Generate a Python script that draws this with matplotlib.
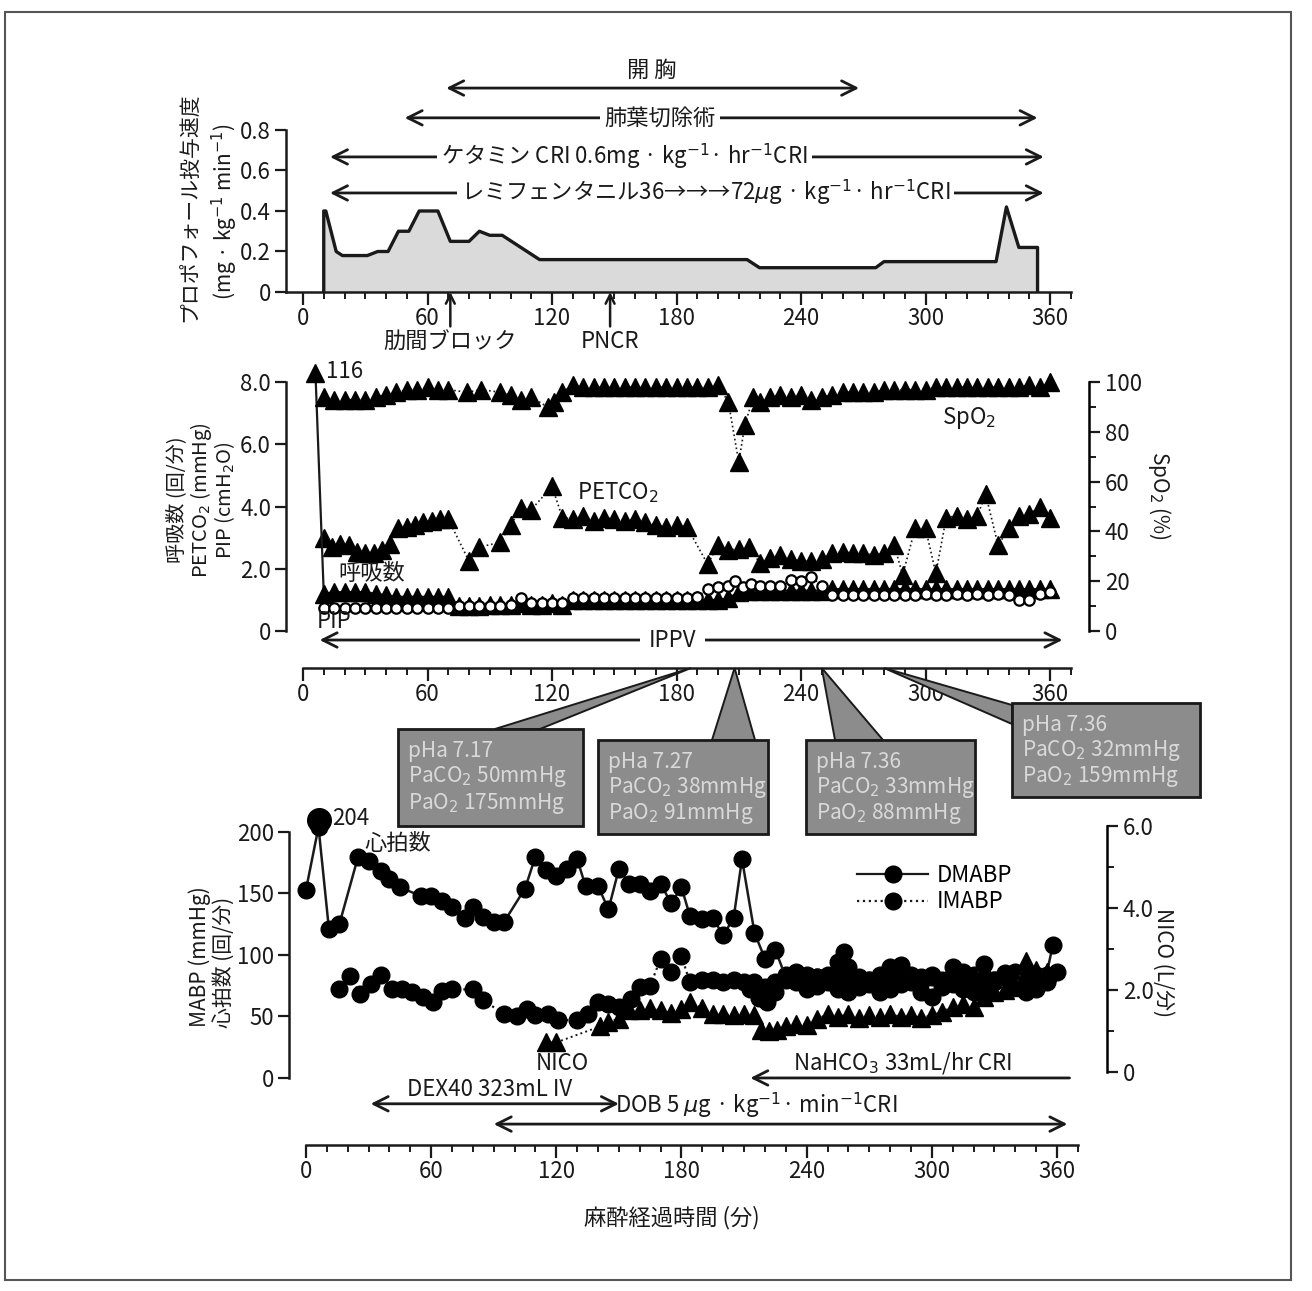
import matplotlib.pyplot as plt
from matplotlib.lines import Line2D
from matplotlib.patches import Polygon, Rectangle

plt.rcParams['font.family'] = ['Noto Sans CJK JP', 'DejaVu Sans']
plt.rcParams['mathtext.fontset'] = 'dejavusans'

# ---- top panel: propofol rate (mg/kg/min)
prop_t = [10, 10, 11, 16, 19, 31, 36, 41, 46, 51, 56, 65, 71, 80, 85, 90, 96, 114, 214, 220, 276, 280, 334, 339, 345, 354, 354]
prop_v = [0, 0.40, 0.40, 0.20, 0.18, 0.18, 0.20, 0.20, 0.30, 0.30, 0.40, 0.40, 0.25, 0.25, 0.30, 0.28, 0.28, 0.16, 0.16, 0.12, 0.12, 0.15, 0.15, 0.42, 0.22, 0.22, 0]

# ---- middle panel
spo2_t = [10, 15, 20, 25, 30, 35, 40, 45, 50, 55, 60, 65, 70, 79, 86, 95, 100, 105, 110, 118, 121, 125,
          130, 135, 140, 145, 150, 155, 160, 165, 170, 175, 180, 185, 190, 195, 200, 205, 210, 213, 217,
          220, 225, 230, 235, 240, 245, 250, 255, 260, 265, 270, 275, 280, 285, 290, 295, 300, 305, 310,
          315, 320, 325, 330, 335, 340, 345, 350, 355, 360]
spo2_v = [94, 93, 93, 93, 93, 94, 95, 96, 97, 97, 98, 97, 97, 96, 97, 96, 95, 93, 94, 90, 92, 96,
          99, 98, 98, 98, 98, 98, 98, 98, 98, 98, 98, 98, 98, 98, 99, 92, 68, 83, 94,
          92, 94, 95, 94, 95, 93, 94, 95, 96, 96, 96, 96, 97, 97, 97, 97, 97, 98, 98,
          98, 98, 98, 98, 98, 98, 98, 99, 98, 100]

petco2_t = [10, 14, 18, 22, 26, 30, 34, 38, 42, 46, 50, 54, 58, 62, 66, 70, 80, 85, 95, 100, 105, 110,
            120, 125, 130, 135, 140, 145, 150, 155, 160, 165, 170, 175, 180, 185, 195, 200, 205, 210,
            215, 220, 225, 230, 235, 240, 245, 250, 255, 260, 265, 270, 275, 280, 285, 289, 295, 300,
            305, 310, 315, 320, 325, 329, 335, 340, 345, 350, 355, 360]
petco2_v = [3.0, 2.7, 2.8, 2.75, 2.55, 2.5, 2.5, 2.6, 2.8, 3.3, 3.35, 3.4, 3.5, 3.55, 3.6, 3.6, 2.25, 2.7,
            2.85, 3.4, 3.95, 3.9, 4.65, 3.65, 3.6, 3.7, 3.55, 3.65, 3.6, 3.55, 3.6, 3.5, 3.4, 3.35, 3.4,
            3.35, 2.15, 2.75, 2.6, 2.65, 2.7, 2.2, 2.35, 2.45, 2.3, 2.25, 2.25, 2.3, 2.5, 2.55, 2.5, 2.5,
            2.45, 2.5, 2.75, 1.8, 3.3, 3.3, 1.85, 3.65, 3.7, 3.6, 3.7, 4.4, 2.75, 3.3, 3.7, 3.75, 4.0, 3.65]

resp_t = [6, 10, 15, 20, 25, 30, 35, 40, 45, 50, 55, 60, 65, 70, 75, 80, 85, 90, 95, 100, 105, 110, 115,
          120, 125, 130, 135, 140, 145, 150, 155, 160, 165, 170, 175, 180, 185, 190, 195, 200, 205, 210,
          215, 220, 225, 230, 235, 240, 245, 250, 255, 260, 265, 270, 275, 280, 285, 290, 295, 300, 305,
          310, 315, 320, 325, 330, 335, 340, 345, 350, 355, 360]
resp_v = [116, 1.2, 1.25, 1.25, 1.25, 1.25, 1.2, 1.15, 1.1, 1.1, 1.1, 1.1, 1.1, 1.1, 0.8, 0.8, 0.8, 0.85,
          0.85, 0.85, 0.9, 0.85, 0.85, 0.9, 0.85, 1.0, 1.0, 1.0, 1.0, 1.0, 1.0, 1.0, 1.0, 1.0, 1.0, 1.0,
          1.0, 1.0, 1.0, 1.0, 1.05, 1.25, 1.3, 1.3, 1.3, 1.3, 1.3, 1.3, 1.3, 1.3, 1.35, 1.35, 1.35, 1.35,
          1.35, 1.35, 1.35, 1.35, 1.35, 1.35, 1.35, 1.35, 1.35, 1.35, 1.35, 1.35, 1.35, 1.35, 1.35, 1.35,
          1.35, 1.35]

pip_t = [10, 15, 20, 25, 30, 35, 40, 45, 50, 55, 60, 65, 70, 75, 80, 85, 90, 95, 100, 105, 110, 115,
         120, 125, 130, 135, 140, 145, 150, 155, 160, 165, 170, 175, 180, 185, 190, 195, 200, 205, 208,
         212, 216, 220, 225, 230, 235, 240, 245, 250, 255, 260, 265, 270, 275, 280, 285, 290, 295, 300,
         305, 310, 315, 320, 325, 330, 335, 340, 345, 350, 355, 360]
pip_v = [0.75, 0.75, 0.75, 0.75, 0.75, 0.75, 0.75, 0.75, 0.75, 0.75, 0.75, 0.75, 0.75, 0.8, 0.8, 0.8,
         0.8, 0.8, 0.85, 1.05, 0.9, 0.9, 0.9, 0.9, 1.05, 1.05, 1.05, 1.05, 1.05, 1.05, 1.05, 1.05, 1.05,
         1.05, 1.05, 1.05, 1.1, 1.35, 1.4, 1.45, 1.6, 1.4, 1.5, 1.45, 1.45, 1.45, 1.65, 1.6, 1.75, 1.45,
         1.15, 1.15, 1.15, 1.15, 1.15, 1.15, 1.15, 1.15, 1.15, 1.2, 1.15, 1.15, 1.2, 1.15, 1.2, 1.15,
         1.2, 1.15, 1.0, 1.0, 1.2, 1.25]

# ---- blood gas results
gas_t = [187, 208, 250, 280]
gas_pha = ['7.17', '7.27', '7.36', '7.36']
gas_paco2 = [50, 38, 33, 32]
gas_pao2 = [175, 91, 88, 159]

# ---- bottom panel
hr_t = [0, 6, 11, 16, 25, 30, 36, 40, 45, 55, 60, 65, 70, 76, 80, 85, 90, 95, 105, 110, 115, 120, 125,
        130, 134, 140, 145, 150, 155, 160, 165, 170, 175, 180, 184, 190, 195, 200, 205, 209, 215, 220,
        225, 230, 235, 240, 245, 250, 255, 260, 265, 270, 275, 280, 285, 290, 295, 300, 305, 310, 315,
        320, 325, 330, 335, 340, 345, 350, 355, 358]
hr_v = [153, 204, 121, 125, 180, 176, 168, 162, 155, 148, 148, 144, 139, 130, 139, 131, 127, 127, 154,
        180, 169, 164, 170, 178, 156, 156, 137, 170, 158, 158, 152, 158, 142, 155, 132, 129, 130, 116,
        130, 178, 118, 97, 104, 82, 84, 80, 82, 80, 86, 80, 78, 80, 82, 90, 92, 80, 78, 82, 80, 90, 82,
        80, 93, 80, 85, 82, 84, 80, 84, 108]

imabp_t = [16, 21, 26, 31, 36, 41, 46, 51, 56, 61, 65, 70, 80, 85, 95, 101, 106, 110, 116, 121, 130,
           135, 140, 145, 150, 156, 160, 165, 170, 175, 180, 184, 190, 195, 200, 205, 210, 215, 220,
           225, 230, 235, 240, 245, 250, 255, 258, 260, 265, 270, 275, 280, 285, 290, 295, 300, 305,
           310, 315, 320, 325, 330, 335, 340, 345, 350, 355]
imabp_v = [72, 83, 68, 76, 84, 72, 72, 70, 66, 62, 71, 72, 72, 63, 52, 50, 56, 51, 52, 47, 47, 52, 62,
           60, 58, 64, 74, 75, 97, 86, 99, 78, 80, 80, 78, 80, 78, 78, 74, 78, 84, 86, 84, 82, 84, 94,
           102, 90, 82, 80, 84, 78, 80, 84, 82, 84, 78, 84, 86, 84, 82, 78, 84, 86, 80, 84, 78]

dmabp_t = [213, 217, 221, 225, 230, 235, 240, 245, 250, 255, 260, 265, 270, 275, 280, 285, 290, 295,
           300, 305, 310, 315, 320, 325, 330, 335, 340, 345, 350, 355, 360]
dmabp_v = [72, 65, 62, 70, 80, 78, 72, 75, 78, 72, 70, 74, 76, 70, 72, 76, 78, 70, 66, 74, 76, 72, 70,
           74, 80, 82, 76, 70, 72, 80, 86]

nico_t = [115, 120, 141, 145, 150, 155, 160, 165, 170, 175, 180, 184, 190, 195, 200, 205, 210, 215, 218,
          222, 226, 230, 235, 240, 245, 250, 255, 260, 265, 270, 275, 280, 285, 290, 295, 300, 305, 310,
          315, 320, 325, 330, 335, 340, 345, 350, 355]
nico_v = [0.72, 0.72, 1.11, 1.23, 1.29, 1.50, 1.50, 1.56, 1.50, 1.44, 1.53, 1.71, 1.56, 1.41, 1.41,
          1.38, 1.41, 1.38, 1.02, 0.99, 1.02, 1.11, 1.17, 1.14, 1.29, 1.41, 1.35, 1.41, 1.32, 1.38, 1.35,
          1.41, 1.35, 1.38, 1.32, 1.38, 1.47, 1.59, 1.65, 1.59, 1.83, 1.95, 2.01, 2.07, 2.70, 2.49, 2.43]

W, H = 1312, 1291
fig = plt.figure(figsize=(W / 100, H / 100), dpi=100)
K = '#1a1a1a'
FS = 15


def box_px(x0, y_bottom, x1, y_top):
    return [x0 / W, 1 - y_bottom / H, (x1 - x0) / W, (y_bottom - y_top) / H]


def style_x(ax, lo):
    ax.set_xticks(range(0, 361, 60))
    ax.set_xticks(range(0, 371, 10), minor=True)
    ax.spines['bottom'].set_bounds(lo, 370)
    ax.tick_params(axis='x', which='major', length=9, width=1.6, pad=2, labelsize=FS + 1, color=K, labelcolor=K)
    ax.tick_params(axis='x', which='minor', length=5, width=1.4, color=K)


def base_style(ax):
    ax.set_facecolor('none')
    for s in ['top', 'right']:
        ax.spines[s].set_visible(False)
    for s in ['left', 'bottom']:
        ax.spines[s].set_linewidth(1.8)
        ax.spines[s].set_color(K)
    ax.tick_params(axis='y', length=8, width=1.6, pad=3, labelsize=FS + 1, color=K, labelcolor=K)


def darrow(ax, x0, x1, y, style='<->'):
    ax.annotate('', xy=(x1, y), xytext=(x0, y), annotation_clip=False,
                arrowprops=dict(arrowstyle=style, lw=2, color=K, mutation_scale=26,
                                shrinkA=0, shrinkB=0))


def label(ax, x, y, s, **kw):
    kw.setdefault('ha', 'center')
    kw.setdefault('va', 'center')
    kw.setdefault('fontsize', FS + 1)
    ax.text(x, y, s, color=K, **kw)


def side_label(x, y, s, rot=90, fs=FS, **kw):
    fig.text(x / W, 1 - y / H, s, rotation=rot, ha='center', va='center', fontsize=fs, color=K, **kw)


WB = dict(facecolor='white', edgecolor='none', pad=3)

# ================= top panel
ax1 = fig.add_axes(box_px(286.4, 292, 1074.9, 59.1))
base_style(ax1)
ax1.set_xlim(-8, 372)
ax1.set_ylim(0, 1.15)
ax1.fill_between(prop_t, prop_v, color='#dadada', lw=0)
ax1.plot(prop_t, prop_v, color=K, lw=2.4)
ax1.set_yticks([0, 0.2, 0.4, 0.6, 0.8])
ax1.set_yticklabels(['0', '0.2', '0.4', '0.6', '0.8'])
ax1.spines['left'].set_bounds(0, 0.8)
style_x(ax1, -8)

darrow(ax1, 69, 268, 1.007)
label(ax1, 168, 1.096, '開 胸')
darrow(ax1, 49, 354, 0.86)
label(ax1, 172, 0.86, '肺葉切除術', bbox=WB)
darrow(ax1, 13, 357, 0.667)
label(ax1, 155, 0.667, 'ケタミン CRI 0.6mg · kg$^{-1}$· hr$^{-1}$CRI', bbox=WB)
darrow(ax1, 13, 357, 0.489)
label(ax1, 194, 0.489, 'レミフェンタニル36→→→72$\\mu$g · kg$^{-1}$· hr$^{-1}$CRI', bbox=WB)

for t, s in [(71, '肋間ブロック'), (148, 'PNCR')]:
    ax1.annotate('', xy=(t, 0.0), xytext=(t, -0.17), annotation_clip=False,
                 arrowprops=dict(arrowstyle='->', lw=1.8, color=K, mutation_scale=16, shrinkA=0, shrinkB=0))
    label(ax1, t, -0.245, s)

side_label(190, 207, 'プロポフォール投与速度')
side_label(225, 212, '(mg · kg$^{-1}$ min$^{-1}$)')

# ================= middle panel
ax2 = fig.add_axes(box_px(286.4, 668, 1074.9, 369.8))
base_style(ax2)
ax2.set_xlim(-8, 372)
ax2.set_ylim(-1.19, 8.4)
ax2.set_yticks([0, 2, 4, 6, 8])
ax2.set_yticklabels(['0', '2.0', '4.0', '6.0', '8.0'])
ax2.spines['left'].set_bounds(0, 8)
style_x(ax2, 0)

ax2r = ax2.twinx()
ax2r.set_ylim(-1.19 * 12.5, 8.4 * 12.5)
for s in ['top', 'left', 'bottom']:
    ax2r.spines[s].set_visible(False)
ax2r.spines['right'].set_position(('outward', 10))
ax2r.spines['right'].set_bounds(0, 100)
ax2r.spines['right'].set_linewidth(1.8)
ax2r.set_yticks(range(0, 101, 20))
ax2r.set_yticks(range(10, 100, 20), minor=True)
ax2r.tick_params(axis='y', which='major', length=8, width=1.6, labelsize=FS + 1, color=K, labelcolor=K)
ax2r.tick_params(axis='y', which='minor', length=5, width=1.4, color=K)

tri = dict(marker='^', ms=13, mfc='black', mec='black', color=K, ls=':', lw=1.2)
ax2r.plot(spo2_t, spo2_v, **tri)
ax2.plot(petco2_t, petco2_v, **tri)
resp_plot = [min(v, 8.3) for v in resp_v]
ax2.plot(resp_t, resp_plot, clip_on=False, **dict(tri, ls='-', lw=1.6))
ax2.plot(pip_t, pip_v, marker='o', ms=7.5, mfc='white', mec='black', mew=1.6, color=K, ls=':', lw=1)

label(ax2, 11, 8.33, str(resp_v[0]), ha='left')
label(ax2, 321, 6.85, 'SpO$_2$')
label(ax2, 132, 4.44, 'PETCO$_2$', ha='left')
label(ax2, 33, 1.86, '呼吸数')
label(ax2, 15, 0.32, 'PIP')
darrow(ax2, 8, 366, -0.29)
label(ax2, 178, -0.3, 'IPPV', bbox=dict(WB, pad=6))

for x, s in [(177, '呼吸数 (回/分)'), (201, 'PETCO$_2$ (mmHg)'), (225, 'PIP (cmH$_2$O)')]:
    side_label(x, 500, s, fs=14.5)
side_label(1160, 495, 'SpO$_2$ (%)', rot=270)

# ================= blood-gas call-out boxes
boxes = [(398, 729, 583, 826), (598, 740, 768, 834), (806, 740, 975, 834), (1012, 703, 1200, 797)]
bases = [[(495, 729), (540, 729)], [(712, 740), (755, 740)], [(835, 740), (883, 740)],
         [(1012, 705), (1012, 724)]]
to_fig = fig.transFigure.inverted()
fig.canvas.draw()
for i, t in enumerate(gas_t):
    tip = to_fig.transform(ax2.transData.transform((t, -1.19)))
    (bx0, by0), (bx1, by1) = bases[i]
    wedge = Polygon([(bx0 / W, 1 - by0 / H), tip, (bx1 / W, 1 - by1 / H)], closed=True,
                    transform=fig.transFigure, facecolor='#8c8c8c', edgecolor=K, lw=1.4, zorder=5)
    fig.patches.append(wedge)
    x0, y0, x1, y1 = boxes[i]
    rect = Rectangle((x0 / W, 1 - y1 / H), (x1 - x0) / W, (y1 - y0) / H, transform=fig.transFigure,
                     facecolor='#8c8c8c', edgecolor=K, lw=2, zorder=6)
    fig.patches.append(rect)
    lines = ['pHa %s' % gas_pha[i], 'PaCO$_2$ %dmmHg' % gas_paco2[i], 'PaO$_2$ %dmmHg' % gas_pao2[i]]
    for j, s in enumerate(lines):
        fig.text((x0 + 10) / W, 1 - (y0 + 22 + 26 * j) / H, s, ha='left', va='center', fontsize=FS,
                 color='#d9d9d9', zorder=7)

# ================= bottom panel
ax3 = fig.add_axes(box_px(289.3, 1145, 1082.0, 813.5))
base_style(ax3)
ax3.set_xlim(-8, 372)
ax3.set_ylim(-54.5, 215)
ax3.set_yticks(range(0, 201, 50))
ax3.spines['left'].set_bounds(0, 200)
style_x(ax3, 0)

ax3r = ax3.twinx()
ax3r.set_ylim((-54.5 - 4.9) / 33.33, (215 - 4.9) / 33.33)
for s in ['top', 'left', 'bottom']:
    ax3r.spines[s].set_visible(False)
ax3r.spines['right'].set_position(('outward', 18))
ax3r.spines['right'].set_bounds(0, 6)
ax3r.spines['right'].set_linewidth(1.8)
ax3r.set_yticks([0, 2, 4, 6])
ax3r.set_yticklabels(['0', '2.0', '4.0', '6.0'])
ax3r.set_yticks([1, 3, 5], minor=True)
ax3r.tick_params(axis='y', which='major', length=8, width=1.6, labelsize=FS + 1, color=K, labelcolor=K)
ax3r.tick_params(axis='y', which='minor', length=5, width=1.4, color=K)

circ = dict(marker='o', ms=12, mfc='black', mec='black', color=K)
ax3r.plot(nico_t, nico_v, marker='^', ms=13, mfc='black', mec='black', color=K, ls=':', lw=1.4)
ax3.plot(imabp_t, imabp_v, ls=':', lw=1.6, **circ)
ax3.plot(dmabp_t, dmabp_v, ls='-', lw=1.6, **circ)
ax3.plot(hr_t, hr_v, ls='-', lw=1.8, **circ)
ax3.plot(hr_t[1], hr_v[1] + 6, 'o', ms=17, color='black', clip_on=False)

label(ax3, 12.5, 211, str(hr_v[1]), ha='left')
label(ax3, 44, 191, '心拍数')
label(ax3, 123, 12, 'NICO')
label(ax3, 286, 12, 'NaHCO$_3$ 33mL/hr CRI')
ax3.annotate('', xy=(213, 0), xytext=(366, 0), annotation_clip=False,
             arrowprops=dict(arrowstyle='->', lw=2, color=K, mutation_scale=26, shrinkA=0, shrinkB=0))
label(ax3, 88, -9, 'DEX40 323mL IV')
darrow(ax3, 31, 150, -21)
label(ax3, 216, -23, 'DOB 5 $\\mu$g · kg$^{-1}$· min$^{-1}$CRI')
darrow(ax3, 90, 365, -37.5)

handles = [Line2D([], [], ls='-', lw=1.6, **circ), Line2D([], [], ls=':', lw=1.6, **circ)]
fig.legend(handles, ['DMABP', 'IMABP'], loc='upper left', bbox_to_anchor=(846 / W, 1 - 853 / H),
           frameon=False, fontsize=FS + 1, handlelength=3.2, handletextpad=0.4, labelspacing=0.15,
           borderpad=0)

side_label(200, 957, 'MABP (mmHg)')
side_label(225, 962, '心拍数 (回/分)')
side_label(1163, 962, 'NICO (L/分)', rot=270)
side_label(672, 1218, '麻酔経過時間 (分)', rot=0, fs=FS + 1)

fig.patches.append(Rectangle((5 / W, 1 - 1280 / H), 1286 / W, 1268 / H, transform=fig.transFigure,
                             facecolor='none', edgecolor='#555555', lw=1.5))

fig.savefig('out.png', dpi=100)
